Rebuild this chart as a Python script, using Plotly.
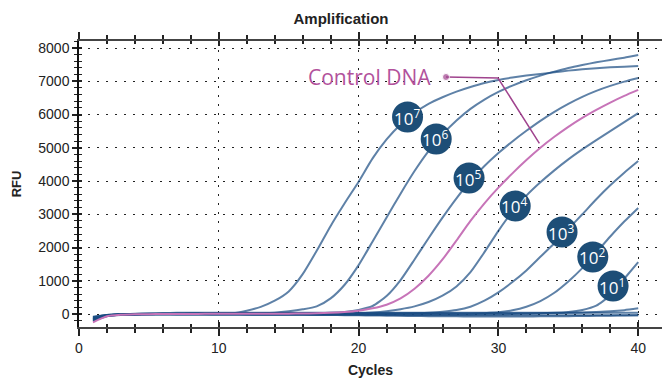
import plotly.graph_objects as go

# qPCR amplification curves, RFU per cycle
cycles = list(range(1, 41))

rfu_1e7 = [-120, -40, -15, -5, 0, 5, 5, 10, 10, 15,
           20, 100, 215, 400, 680, 1200, 1900, 2650, 3330, 3980,
           4680, 5250, 5700, 6050, 6320, 6520, 6690, 6830, 6950, 7040,
           7110, 7170, 7220, 7270, 7320, 7360, 7390, 7420, 7440, 7460]
rfu_1e6 = [-180, -50, -20, -10, -5, 0, 0, 5, 5, 10,
           10, 15, 25, 40, 80, 140, 230, 470, 880, 1470,
           2180, 2900, 3620, 4300, 4900, 5400, 5820, 6170, 6450, 6680,
           6870, 7030, 7170, 7290, 7400, 7490, 7570, 7640, 7710, 7790]
rfu_1e5 = [-100, -30, -10, -5, 0, 0, 0, 5, 5, 5,
           10, 10, 10, 15, 15, 20, 25, 35, 60, 120,
           240, 540, 1020, 1640, 2280, 2900, 3480, 4000, 4450, 4840,
           5190, 5510, 5810, 6080, 6320, 6530, 6710, 6860, 6990, 7100]
rfu_control = [-250, -70, -25, -10, -5, 0, 0, 0, 5, 5,
               5, 5, 10, 10, 10, 15, 20, 35, 60, 100,
               170, 280, 470, 760, 1150, 1640, 2210, 2800, 3330, 3800,
               4230, 4630, 5000, 5330, 5630, 5900, 6140, 6360, 6560, 6740]
rfu_1e4 = [-150, -40, -15, -5, 0, 0, 0, 0, 5, 5,
           5, 5, 5, 10, 10, 10, 10, 15, 15, 20,
           45, 85, 145, 230, 360, 550, 830, 1260, 1860, 2500,
           3080, 3560, 3960, 4320, 4650, 4950, 5230, 5500, 5770, 6040]
rfu_1e3 = [-80, -30, -10, -5, 0, 0, 0, 0, 0, 5,
           5, 5, 5, 5, 5, 10, 10, 10, 10, 10,
           10, 15, 15, 20, 40, 70, 120, 220, 400, 650,
           960, 1310, 1720, 2130, 2560, 3000, 3450, 3870, 4250, 4600]
rfu_1e2 = [-200, -60, -20, -10, -5, 0, 0, 0, 0, 0,
           0, 0, 5, 5, 5, 5, 5, 5, 5, 5,
           5, 5, 5, 5, 5, 5, 5, 10, 25, 50,
           110, 220, 390, 640, 980, 1380, 1850, 2330, 2780, 3190]
rfu_1e1 = [-140, -45, -15, -5, 0, 0, -5, -5, -10, -10,
           -10, -10, -15, -15, -15, -15, -20, -20, -20, -20,
           -25, -25, -25, -25, -25, -25, -20, -20, -15, -10,
           0, 10, 20, 35, 60, 120, 250, 560, 1060, 1560]
rfu_1e0 = [-90, -35, -10, 0, 10, 15, 20, 20, 25, 25,
           25, 25, 25, 25, 25, 25, 25, 25, 25, 25,
           25, 25, 25, 25, 25, 25, 25, 25, 25, 25,
           25, 25, 25, 30, 35, 45, 60, 80, 115, 170]
rfu_ntc_a = [-160, -50, -15, 5, 20, 30, 35, 35, 35, 35,
             35, 35, 35, 35, 35, 35, 35, 35, 35, 35,
             35, 35, 35, 35, 35, 35, 35, 35, 35, 35,
             35, 35, 35, 35, 35, 35, 35, 35, 35, 35]
rfu_ntc_b = [-210, -70, -25, -15, -10, -10, -10, -10, -10, -15,
             -15, -20, -20, -20, -25, -25, -30, -30, -35, -40,
             -45, -50, -55, -60, -65, -70, -70, -75, -75, -75,
             -75, -75, -70, -70, -65, -60, -55, -50, -45, -40]
rfu_ntc_c = [-130, -55, -30, -25, -25, -25, -25, -25, -25, -25,
             -25, -25, -25, -25, -25, -25, -25, -25, -25, -25,
             -30, -30, -35, -35, -40, -40, -40, -40, -40, -40,
             -40, -40, -40, -40, -40, -40, -40, -40, -40, -40]

blue_series = [rfu_ntc_a, rfu_ntc_b, rfu_ntc_c, rfu_1e0, rfu_1e1, rfu_1e2,
               rfu_1e3, rfu_1e4, rfu_1e5, rfu_1e6, rfu_1e7]

# dilution badges
badge_text = ["10<sup>7</sup>", "10<sup>6</sup>", "10<sup>5</sup>", "10<sup>4</sup>",
              "10<sup>3</sup>", "10<sup>2</sup>", "10<sup>1</sup>"]
badge_cycle = [23.5, 25.55, 27.9, 31.2, 34.55, 36.75, 38.2]
badge_rfu = [5925, 5265, 4090, 3250, 2465, 1715, 840]

# callout for the control curve
callout_cycle = [26.25, 29.97, 32.93]
callout_rfu = [7128, 7098, 5134]

x_ticks = [0, 10, 20, 30, 40]
y_ticks = [0, 1000, 2000, 3000, 4000, 5000, 6000, 7000, 8000]

BLUE = "rgba(25,75,130,0.7)"
PINK = "#c774b8"
NAVY = "#1d4e77"
MAGENTA = "#b2529c"
TEXT = "#222222"

fig = go.Figure()

for s in blue_series:
    fig.add_trace(go.Scatter(x=cycles, y=s, mode="lines",
                             line=dict(color=BLUE, width=2, shape="spline",
                                       smoothing=0.6),
                             hoverinfo="skip", showlegend=False))

fig.add_trace(go.Scatter(x=cycles, y=rfu_control, mode="lines",
                         line=dict(color=PINK, width=2, shape="spline",
                                   smoothing=0.6),
                         hoverinfo="skip", showlegend=False))

fig.add_trace(go.Scatter(x=callout_cycle, y=callout_rfu, mode="lines+markers",
                         line=dict(color="#a0448e", width=1.5),
                         marker=dict(size=[7, 0, 0], color="#a0448e"),
                         hoverinfo="skip", showlegend=False))

# navy discs, then the dilution text centred on them
fig.add_trace(go.Scatter(x=badge_cycle, y=badge_rfu, mode="markers",
                         marker=dict(size=31, color=NAVY),
                         hoverinfo="skip", showlegend=False))
for label, cx, cy in zip(badge_text, badge_cycle, badge_rfu):
    fig.add_annotation(x=cx, y=cy, xref="x", yref="y", text=label,
                       showarrow=False, xanchor="center", yanchor="middle",
                       xshift=-1,
                       font=dict(family="Open Sans", size=17, color="white"))

# helper trace so the overlay axes (inner tick halves) are drawn
fig.add_trace(go.Scatter(x=[0], y=[0], xaxis="x2", yaxis="y2", mode="markers",
                         marker=dict(opacity=0), hoverinfo="skip", showlegend=False))

fig.add_annotation(x=25.3, y=7128, xref="x", yref="y", text="Control DNA",
                   showarrow=False, xanchor="right", yanchor="middle",
                   font=dict(family="Open Sans", size=21, color=MAGENTA))

x_range = [0, 41.7]
y_range = [-391, 8211]
grid_dash = "2px,7px"

fig.update_layout(
    width=662, height=378,
    margin=dict(l=79, r=0, t=41, b=51),
    paper_bgcolor="white", plot_bgcolor="white",
    font=dict(family="Liberation Sans", color=TEXT),
    title=dict(text="<b>Amplification</b>", x=341 / 662, xanchor="center",
               xref="container", y=1 - 19 / 378, yanchor="middle",
               yref="container", font=dict(size=15, color=TEXT)),
    xaxis=dict(range=x_range, tickvals=x_ticks, showgrid=True,
               gridcolor="#222", griddash=grid_dash, gridwidth=1,
               zeroline=False, showline=True, linecolor="#444", linewidth=2,
               ticks="outside", ticklen=7, tickwidth=1.5, tickcolor="#222",
               mirror="ticks",
               minor=dict(dtick=2, tick0=0, ticks="outside", ticklen=4,
                          tickwidth=1.5, tickcolor="#222", showgrid=False),
               tickfont=dict(size=14, color=TEXT),
               title=dict(text="<b>Cycles</b>", font=dict(size=14, color=TEXT),
                          standoff=12)),
    yaxis=dict(range=y_range, tickvals=y_ticks, showgrid=True,
               gridcolor="#222", griddash=grid_dash, gridwidth=1,
               zeroline=False, showline=True, linecolor="#111", linewidth=1.5,
               ticks="outside", ticklen=5, tickwidth=1.5, tickcolor="#222",
               minor=dict(dtick=200, tick0=0, ticks="outside", ticklen=3,
                          tickwidth=1, tickcolor="#222", showgrid=False),
               tickfont=dict(size=14, color=TEXT),
               title=dict(text="<b>RFU</b>", font=dict(size=13, color=TEXT),
                          standoff=14)),
    xaxis2=dict(range=x_range, overlaying="x", tickvals=x_ticks,
                showgrid=False, zeroline=False, showline=False,
                ticks="inside", ticklen=5, tickwidth=1.5, tickcolor="#222",
                mirror="ticks", showticklabels=False,
                minor=dict(dtick=2, tick0=0, ticks="inside", ticklen=3,
                           tickwidth=1.5, tickcolor="#222", showgrid=False)),
    yaxis2=dict(range=y_range, overlaying="y", tickvals=y_ticks,
                showgrid=False, zeroline=False, showline=False,
                ticks="inside", ticklen=3, tickwidth=1.5, tickcolor="#222",
                showticklabels=False,
                minor=dict(dtick=200, tick0=0, ticks="inside", ticklen=3,
                           tickwidth=1, tickcolor="#222", showgrid=False)),
)

fig.write_html("out.html")
